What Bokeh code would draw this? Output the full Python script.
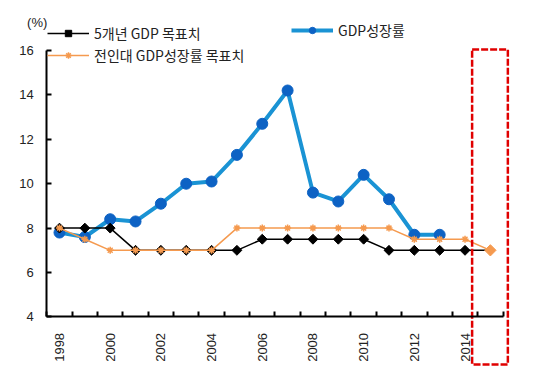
import math
from bokeh.plotting import figure
from bokeh.models import Range1d, FixedTicker, Legend, LegendItem, Label
from bokeh.embed import file_html
from bokeh.resources import INLINE

# ---- data ----
years = [1998, 1999, 2000, 2001, 2002, 2003, 2004, 2005, 2006, 2007,
         2008, 2009, 2010, 2011, 2012, 2013, 2014, 2015]
target_5yr = [8, 8, 8, 7, 7, 7, 7, 7, 7.5, 7.5, 7.5, 7.5, 7.5, 7, 7, 7, 7, 7]

gdp_years = [1998, 1999, 2000, 2001, 2002, 2003, 2004, 2005, 2006, 2007,
             2008, 2009, 2010, 2011, 2012, 2013]
gdp_growth = [7.8, 7.6, 8.4, 8.3, 9.1, 10.0, 10.1, 11.3, 12.7, 14.2,
              9.6, 9.2, 10.4, 9.3, 7.7, 7.7]

npc_years = [1998, 1999, 2000, 2001, 2002, 2003, 2004, 2005, 2006, 2007,
             2008, 2009, 2010, 2011, 2012, 2013, 2014, 2015]
npc_target = [8, 7.5, 7, 7, 7, 7, 7, 8, 8, 8, 8, 8, 8, 8, 7.5, 7.5, 7.5, 7]

latest_year = [2015]
latest_target = [7]

x_label_years = [1998, 2000, 2002, 2004, 2006, 2008, 2010, 2012, 2014]
x_labels = ["1998", "2000", "2002", "2004", "2006", "2008", "2010", "2012", "2014"]
y_ticks = [4, 6, 8, 10, 12, 14, 16]
y_min, y_max = 4, 16

highlight_year = [2015]

name_5yr = "5개년 GDP 목표치"
name_gdp = "GDP성장률"
name_npc = "전인대 GDP성장률 목표치"
unit_label = "(%)"

# ---- figure ----
FONT = "Liberation Sans"
KFONT = "Noto Sans CJK KR"

x0 = years[0] - 0.5
x1 = years[-1] + 0.5

p = figure(width=522, height=374, output_backend="svg", toolbar_location=None,
           x_range=Range1d(1995.83, 2016.11), y_range=Range1d(1.54, 17.94),
           min_border_left=4, min_border_right=4, min_border_top=7,
           min_border_bottom=3)
p.grid.visible = False
p.outline_line_color = None
p.background_fill_color = "white"
p.border_fill_color = "white"

# y axis
ya = p.yaxis[0]
ya.fixed_location = x0
ya.ticker = FixedTicker(ticks=y_ticks)
ya.bounds = (y_min, y_max)
ya.axis_line_width = 2
ya.axis_line_color = "black"
ya.major_tick_in = 5
ya.major_tick_out = 0
ya.major_tick_line_width = 2
ya.minor_tick_line_color = None
ya.major_label_text_font = FONT
ya.major_label_text_font_size = "13px"
ya.major_label_text_color = "#222222"
ya.major_label_standoff = 13

# x axis
xa = p.xaxis[0]
xa.fixed_location = y_min
minor = [y - 0.5 for y in years] + [x1]
xa.ticker = FixedTicker(ticks=x_label_years, minor_ticks=minor)
xa.bounds = (x0, x1)
xa.major_label_overrides = {y: l for y, l in zip(x_label_years, x_labels)}
xa.axis_line_width = 2
xa.axis_line_color = "black"
xa.major_tick_line_color = None
xa.minor_tick_in = 5
xa.minor_tick_out = 0
xa.minor_tick_line_width = 2
xa.minor_tick_line_color = "black"
xa.major_label_orientation = math.pi / 2
xa.major_label_text_font = FONT
xa.major_label_text_font_size = "13px"
xa.major_label_text_color = "#222222"
xa.major_label_standoff = 10

# series
BLUE_L = "#1a93d4"
BLUE_M = "#0d62c4"
ORANGE = "#f59a4f"

b_line = p.line(gdp_years, gdp_growth, line_color=BLUE_L, line_width=4)
b_mark = p.scatter(gdp_years, gdp_growth, marker="circle", size=11,
                   fill_color=BLUE_M, line_color=BLUE_M)

k_line = p.line(years, target_5yr, line_color="black", line_width=1.5)
k_mark = p.scatter(years[:-1], target_5yr[:-1], marker="square", angle=math.pi / 4,
                   size=7, fill_color="black", line_color="black")

o_line = p.line(npc_years, npc_target, line_color=ORANGE, line_width=1.5)
o_mark = p.scatter(npc_years[:-1], npc_target[:-1], marker="asterisk", size=7,
                   line_color=ORANGE, line_width=1.5)
o_last = p.scatter(latest_year, latest_target, marker="square", angle=math.pi / 4,
                   size=8, fill_color=ORANGE, line_color=ORANGE)

# highlight box
p.quad(left=[h - 0.72 for h in highlight_year], right=[h + 0.69 for h in highlight_year],
       top=[16.05], bottom=[1.86], fill_color=None, line_color="#e00000",
       line_width=2.5, line_dash="7 2")

# legends
common = dict(orientation="vertical", glyph_width=42, glyph_height=16, spacing=2,
              label_standoff=5, padding=0, margin=0, border_line_color=None,
              background_fill_color=None, label_text_font=KFONT,
              label_text_font_size="14px", label_text_color="#222222")
leg1 = Legend(items=[LegendItem(label=name_5yr, renderers=[k_line, k_mark]),
                     LegendItem(label=name_npc, renderers=[o_line, o_mark])],
              location=(43, 306), **common)
leg2 = Legend(items=[LegendItem(label=name_gdp, renderers=[b_line, b_mark])],
              location=(287, 331), **common)
p.add_layout(leg1)
p.add_layout(leg2)

p.add_layout(Label(x=1996.72, y=17.25, text=unit_label,
                   text_font=FONT, text_font_size="13px", text_color="#222222",
                   text_baseline="middle"))

open("out.html", "w").write(file_html(p, INLINE))
